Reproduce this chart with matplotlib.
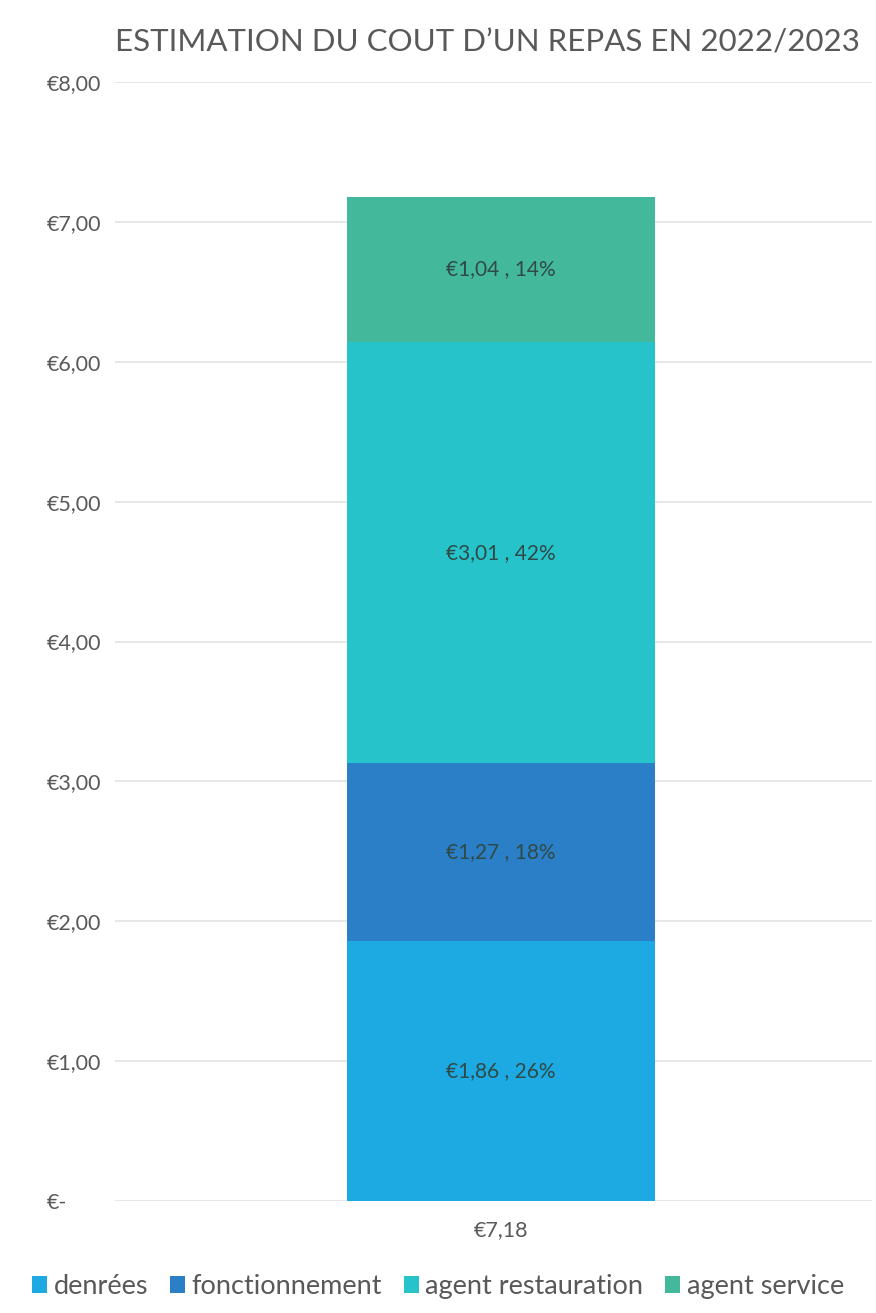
import matplotlib.pyplot as plt
import numpy as np

plt.rcParams['font.family'] = ['Lato', 'DejaVu Sans']

categories = ['denrées', 'fonctionnement', 'agent restauration', 'agent service']
values = [1.86, 1.27, 3.01, 1.04]
percents = [26, 18, 42, 14]
colors = ['#1DAAE2', '#2A7FC6', '#26C3CB', '#44B89A']
ytick_values = [0, 1, 2, 3, 4, 5, 6, 7, 8]
ytick_labels = ['€-', '€1,00', '€2,00', '€3,00', '€4,00', '€5,00', '€6,00', '€7,00', '€8,00']
xtick_label = '€7,18'


def fmt_eur(v):
    return '€' + ('%.2f' % v).replace('.', ',')


fig = plt.figure(figsize=(8.76, 13.13), dpi=100)
ax = fig.add_axes([0.131, 0.0853, 0.864, 0.8522])

bottom = 0
for cat, val, pct, col in zip(categories, values, percents, colors):
    ax.bar(0, val, bottom=bottom, width=0.407, color=col, label=cat, zorder=2)
    ax.text(0, bottom + val / 2, '%s , %d%%' % (fmt_eur(val), pct),
            ha='center', va='center', fontsize=15, color='#2f4a48', zorder=3)
    bottom += val

ax.set_xlim(-0.51, 0.49)
ax.set_ylim(0, 8)
ax.set_yticks(ytick_values)
ax.set_yticklabels(ytick_labels, fontsize=15.5, color='#595959')
ax.set_xticks([0])
ax.set_xticklabels([xtick_label], fontsize=15.5, color='#595959')
ax.tick_params(length=0)
ax.tick_params(axis='x', pad=14)
for lab in ax.get_yticklabels():
    lab.set_horizontalalignment('left')
ax.yaxis.set_tick_params(pad=49)
ax.grid(axis='y', color='#e3e3e3', linewidth=1.2, zorder=0)
for s in ax.spines.values():
    s.set_visible(False)

fig.text(0.557, 0.968, "ESTIMATION DU COUT D’UN REPAS EN 2022/2023",
         ha='center', va='center', fontsize=22.5, color='#595959')

fig.legend(loc='lower center', bbox_to_anchor=(0.5, -0.008), ncol=4, frameon=False,
           fontsize=19.5, handlelength=0.55, handleheight=0.55, handletextpad=0.25,
           columnspacing=0.8, labelcolor='#595959')

fig.savefig('out.png', dpi=100)
